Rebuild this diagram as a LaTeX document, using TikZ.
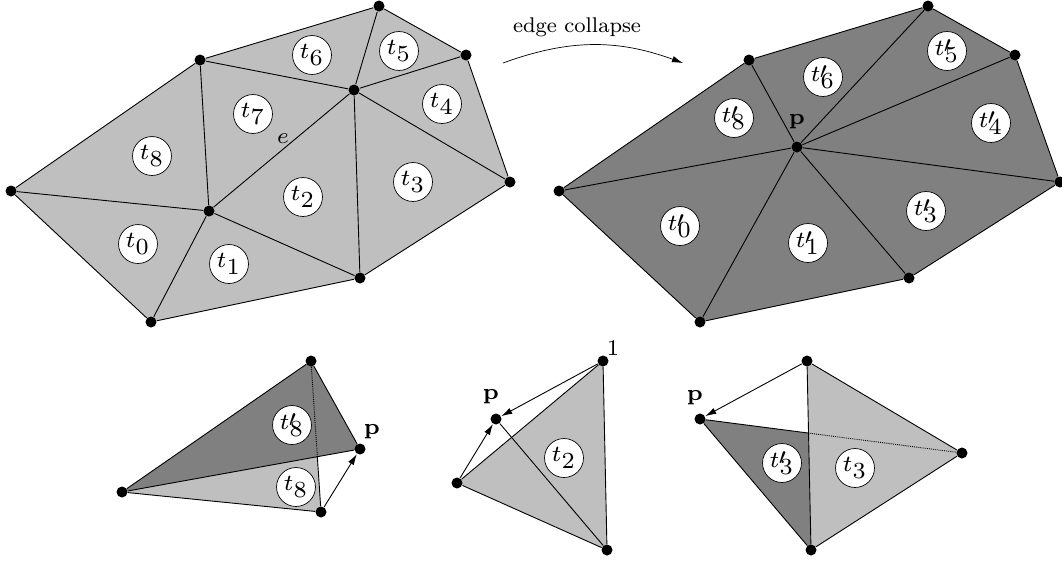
\documentclass[tikz,border=0pt]{standalone}
\usepackage{amsmath}
\usetikzlibrary{arrows.meta,backgrounds}
\DeclareMathSizes{7}{7}{7}{7}
\newcommand{\tp}[1]{t\rlap{\kern-0.3pt\raisebox{1.1pt}{$\scriptscriptstyle\prime$}}_{#1}}

\begin{document}
\begin{tikzpicture}[x=1pt, y=-1pt, line width=0.9pt,
    vert/.style = {circle, fill=black, inner sep=0pt, minimum size=11pt},
    tri/.style = {draw, circle, fill=white, line width=0.7pt, inner sep=0pt, minimum size=11.8pt, font=\scriptsize, scale=3.3, transform shape},
    txt/.style = {inner sep=0pt, font=\scriptsize, scale=3.2, transform shape},
    light/.style = {fill=black!25},
    dark/.style = {fill=black!50},
    arr/.style = {-{Latex[length=11pt,width=6.5pt]}}]
    \useasboundingbox (0,0) rectangle (1062,563);

    % mesh before the collapse
    \node[vert] (A) at (379,6) {};
    \node[vert] (B) at (466,55) {};
    \node[vert] (C) at (510,182) {};
    \node[vert] (D) at (360,278) {};
    \node[vert] (E) at (151,322) {};
    \node[vert] (F) at (11,191) {};
    \node[vert] (G) at (200,60) {};
    \node[vert] (U) at (354,90) {};
    \node[vert] (V) at (209,211) {};
    \begin{scope}[on background layer]
        \fill[light] (A.center) -- (B.center) -- (C.center) -- (D.center) -- (E.center) -- (F.center) -- (G.center) -- cycle;
    \end{scope}
    \draw (A) -- (B) -- (C) -- (D) -- (E) -- (F) -- (G) -- (A);
    \draw (U) -- (A); \draw (U) -- (B); \draw (U) -- (C); \draw (U) -- (D); \draw (U) -- (G);
    \draw (V) -- (U); \draw (V) -- (D); \draw (V) -- (E); \draw (V) -- (F); \draw (V) -- (G);
    \node[tri] (t0) at (138,244) {$t_0$};
    \node[tri] (t1) at (229,264) {$t_1$};
    \node[tri] (t2) at (303,197) {$t_2$};
    \node[tri] (t3) at (413,182) {$t_3$};
    \node[tri] (t4) at (442,104) {$t_4$};
    \node[tri] (t5) at (399,51) {$t_5$};
    \node[tri] (t6) at (312,55) {$t_6$};
    \node[tri] (t7) at (253,114) {$t_7$};
    \node[tri] (t8) at (152,156) {$t_8$};
    \node[txt] (e) at (283,139) {$e$};

    % the arrow between the meshes
    \node[txt, font=\footnotesize, scale=0.83] (collapse) at (577,27) {edge collapse};
    \coordinate (from) at (503,63);
    \coordinate (to) at (683,63);
    \path[arr, line width=0.7pt] (from) edge [bend left=20] (to);

    % mesh after the collapse
    \node[vert] (A2) at (928,6) {};
    \node[vert] (B2) at (1015,55) {};
    \node[vert] (C2) at (1060,182) {};
    \node[vert] (D2) at (909,278) {};
    \node[vert] (E2) at (700,322) {};
    \node[vert] (F2) at (559,191) {};
    \node[vert] (G2) at (749,60) {};
    \node[vert] (P) at (797,147) {};
    \begin{scope}[on background layer]
        \fill[dark] (A2.center) -- (B2.center) -- (C2.center) -- (D2.center) -- (E2.center) -- (F2.center) -- (G2.center) -- cycle;
    \end{scope}
    \draw (A2) -- (B2) -- (C2) -- (D2) -- (E2) -- (F2) -- (G2) -- (A2);
    \draw (P) -- (A2); \draw (P) -- (B2); \draw (P) -- (C2); \draw (P) -- (D2);
    \draw (P) -- (E2); \draw (P) -- (F2); \draw (P) -- (G2);
    \node[tri] (s0) at (680,226) {$\tp{0}$};
    \node[tri] (s1) at (808,243) {$\tp{1}$};
    \node[tri] (s3) at (926,211) {$\tp{3}$};
    \node[tri] (s4) at (991,123) {$\tp{4}$};
    \node[tri] (s5) at (947,51) {$\tp{5}$};
    \node[tri] (s6) at (823,77) {$\tp{6}$};
    \node[tri] (s8) at (734,118) {$\tp{8}$};
    \node[txt] (pP) at (797,122) {$\mathbf{p}$};

    % bottom left
    \node[vert] (H) at (311,361) {};
    \node[vert] (I) at (122,492) {};
    \node[vert] (J) at (321,512) {};
    \node[vert] (K) at (360,449) {};
    \coordinate (X) at (intersection of H--J and I--K);
    \begin{scope}[on background layer]
        \fill[light] (I.center) -- (X) -- (J.center) -- cycle;
        \fill[dark] (I.center) -- (H.center) -- (K.center) -- cycle;
    \end{scope}
    \draw (I) -- (H) -- (K) -- (I) -- (J);
    \draw[densely dotted] (H) -- (X);
    \draw (X) -- (J);
    \draw[arr] (J) -- (K);
    \node[tri] (s8b) at (292,425) {$\tp{8}$};
    \node[tri] (t8b) at (296,487) {$t_8$};
    \node[txt] (pK) at (372,432) {$\mathbf{p}$};

    % bottom middle
    \node[vert] (L) at (603,361) {};
    \node[vert] (M) at (457,483) {};
    \node[vert] (N) at (607,550) {};
    \node[vert] (O) at (496,419) {};
    \begin{scope}[on background layer]
        \fill[light] (L.center) -- (N.center) -- (M.center) -- cycle;
    \end{scope}
    \draw (L) -- (N) -- (M) -- (L);
    \draw (O) -- (N);
    \draw[arr] (M) -- (O);
    \draw[arr] (L) -- (O);
    \node[tri] (t2b) at (564,458) {$t_2$};
    \node[txt] (pO) at (491,397) {$\mathbf{p}$};
    \node[txt] (one) at (613,348) {1};

    % bottom right
    \node[vert] (Q) at (807,361) {};
    \node[vert] (R) at (962,453) {};
    \node[vert] (S) at (811,550) {};
    \node[vert] (W) at (700,419) {};
    \coordinate (Y) at (intersection of Q--S and W--R);
    \begin{scope}[on background layer]
        \fill[light] (Q.center) -- (R.center) -- (S.center) -- cycle;
        \fill[dark] (W.center) -- (Y) -- (S.center) -- cycle;
    \end{scope}
    \draw (Q) -- (R) -- (S) -- (Q);
    \draw (W) -- (Y);
    \draw[densely dotted] (Y) -- (R);
    \draw (W) -- (S);
    \draw[arr] (Q) -- (W);
    \node[tri] (s3b) at (782,463) {$\tp{3}$};
    \node[tri] (t3b) at (855,468) {$t_3$};
    \node[txt] (pW) at (695,398) {$\mathbf{p}$};
\end{tikzpicture}
\end{document}
